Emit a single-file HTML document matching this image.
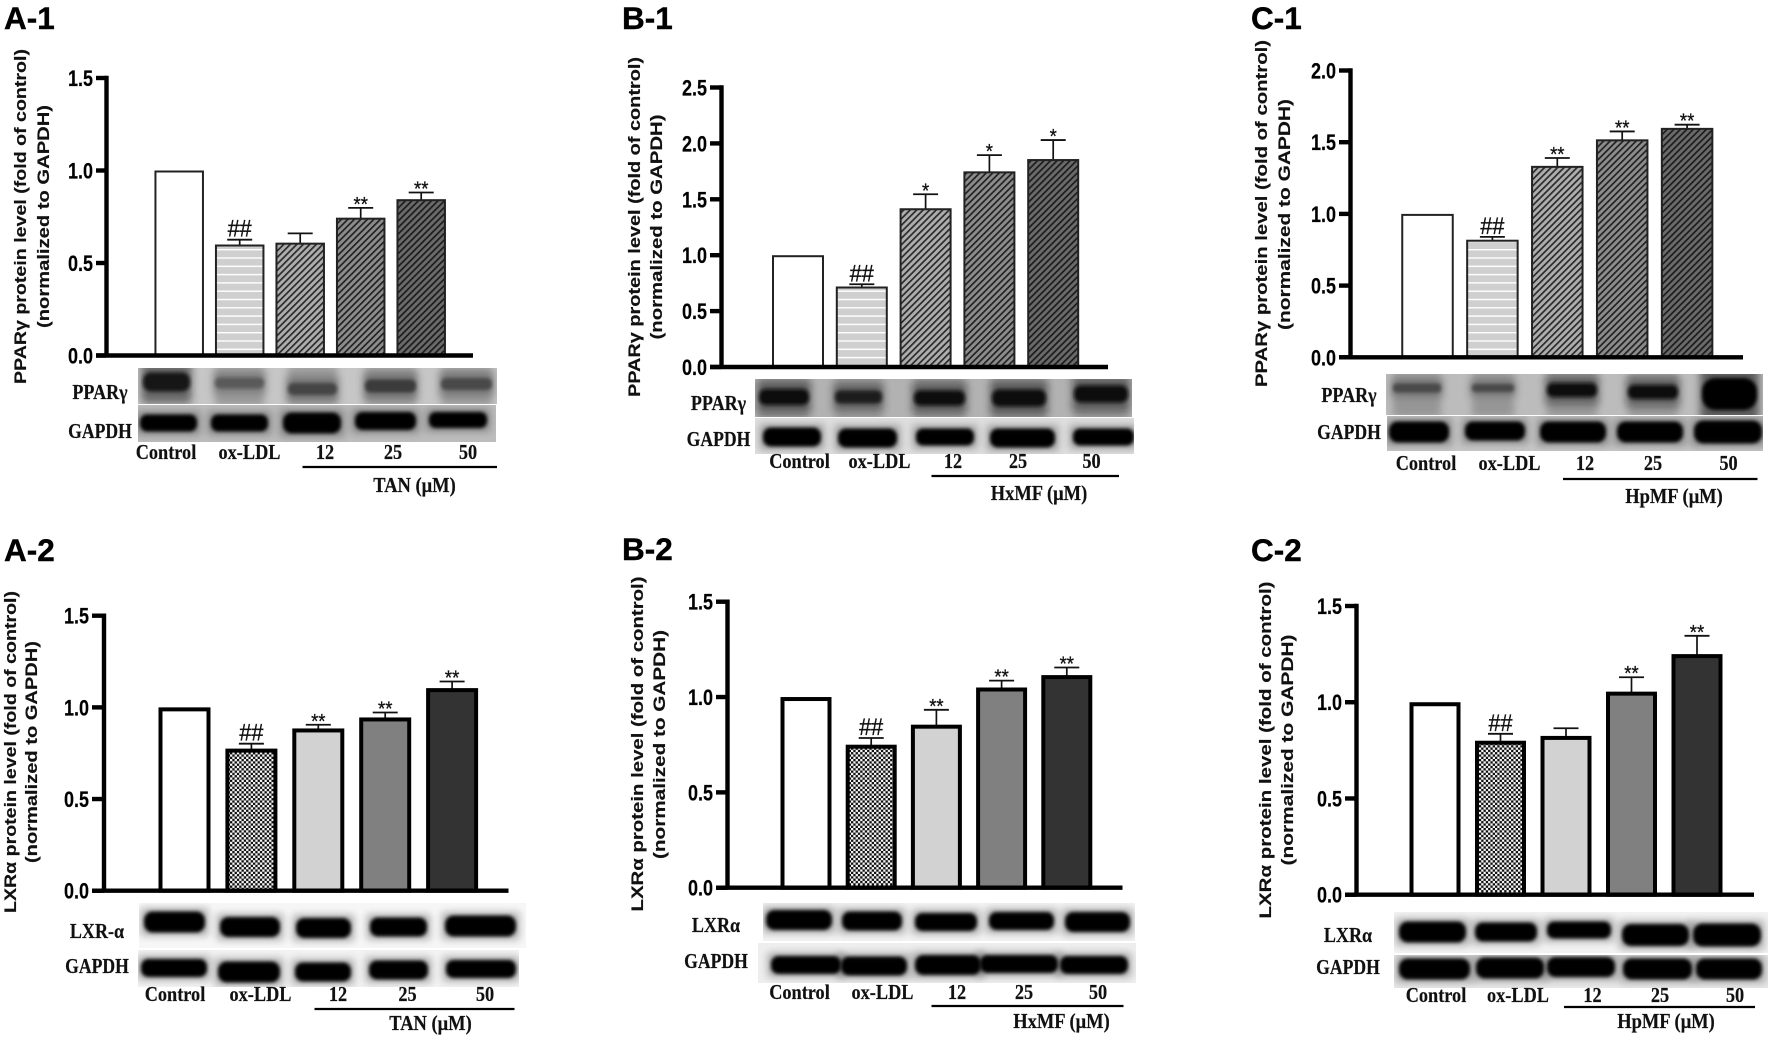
<!DOCTYPE html>
<html lang="en">
<head>
<meta charset="utf-8">
<title>PPARγ and LXRα protein levels</title>
<style>
html,body{margin:0;padding:0;background:#fff;}
svg{display:block;}
.pl{font:bold 31.5px "Liberation Sans",sans-serif;fill:#000;stroke:#000;stroke-width:.4;}
.yt{font:bold 16.5px "Liberation Sans",sans-serif;fill:#111;text-anchor:middle;stroke:#111;stroke-width:.15;}
.tk{font:bold 22px "Liberation Sans",sans-serif;fill:#000;stroke:#000;stroke-width:.2;}
.sf{font:bold 21px "Liberation Serif",serif;fill:#111;text-anchor:middle;stroke:#111;stroke-width:.2;}
.st{font:normal 20px "Liberation Sans",sans-serif;fill:#111;text-anchor:middle;stroke:#111;stroke-width:.3;}
.hs{font:normal 24px "Liberation Sans",sans-serif;fill:#111;text-anchor:middle;stroke:#111;stroke-width:.35;}
</style>
</head>
<body>
<svg id="figure" xmlns="http://www.w3.org/2000/svg" width="1772" height="1037" viewBox="0 0 1772 1037">
<defs>
<filter id="blurS" x="-20%" y="-60%" width="140%" height="220%"><feGaussianBlur stdDeviation="1.8"/></filter>
<filter id="blurL" x="-30%" y="-60%" width="160%" height="220%"><feGaussianBlur stdDeviation="4"/></filter>
<pattern id="stripes" patternUnits="userSpaceOnUse" width="10" height="8.3"><rect width="10" height="8.3" fill="#cfcfcf"/><rect width="10" height="1.4" fill="#fff"/></pattern>
<pattern id="hatch1" patternUnits="userSpaceOnUse" width="4.6" height="4.6" patternTransform="rotate(45)"><rect width="4.6" height="4.6" fill="#adadad"/><rect width="1.7" height="4.6" fill="#2a2a2a"/></pattern>
<pattern id="hatch2" patternUnits="userSpaceOnUse" width="4.6" height="4.6" patternTransform="rotate(45)"><rect width="4.6" height="4.6" fill="#8c8c8c"/><rect width="1.7" height="4.6" fill="#222"/></pattern>
<pattern id="hatch3" patternUnits="userSpaceOnUse" width="4.6" height="4.6" patternTransform="rotate(45)"><rect width="4.6" height="4.6" fill="#6a6a6a"/><rect width="1.7" height="4.6" fill="#1c1c1c"/></pattern>
<pattern id="check" patternUnits="userSpaceOnUse" width="4.6" height="4.6"><rect width="4.6" height="4.6" fill="#111"/><rect width="2.3" height="2.3" fill="#f4f4f4"/><rect x="2.3" y="2.3" width="2.3" height="2.3" fill="#f4f4f4"/></pattern>
</defs>

<text class="pl" x="4" y="29">A-1</text>
<text class="pl" x="622" y="29">B-1</text>
<text class="pl" x="1251" y="29">C-1</text>
<text class="pl" x="4" y="561">A-2</text>
<text class="pl" x="622" y="560">B-2</text>
<text class="pl" x="1251" y="561">C-2</text>

<text class="yt" textLength="335" lengthAdjust="spacingAndGlyphs" transform="translate(26 216.5) rotate(-90)">PPARγ protein level (fold of control)</text>
<text class="yt" textLength="223" lengthAdjust="spacingAndGlyphs" transform="translate(49 216.5) rotate(-90)">(normalized to GAPDH)</text>
<text class="yt" textLength="340" lengthAdjust="spacingAndGlyphs" transform="translate(640 227) rotate(-90)">PPARγ protein level (fold of control)</text>
<text class="yt" textLength="225" lengthAdjust="spacingAndGlyphs" transform="translate(662 227) rotate(-90)">(normalized to GAPDH)</text>
<text class="yt" textLength="347" lengthAdjust="spacingAndGlyphs" transform="translate(1267 213.5) rotate(-90)">PPARγ protein level (fold of control)</text>
<text class="yt" textLength="231" lengthAdjust="spacingAndGlyphs" transform="translate(1290 214.5) rotate(-90)">(normalized to GAPDH)</text>
<text class="yt" textLength="322" lengthAdjust="spacingAndGlyphs" transform="translate(16 752) rotate(-90)">LXRα protein level (fold of control)</text>
<text class="yt" textLength="222" lengthAdjust="spacingAndGlyphs" transform="translate(37 752) rotate(-90)">(normalized to GAPDH)</text>
<text class="yt" textLength="335" lengthAdjust="spacingAndGlyphs" transform="translate(643 744) rotate(-90)">LXRα protein level (fold of control)</text>
<text class="yt" textLength="229" lengthAdjust="spacingAndGlyphs" transform="translate(665 744.5) rotate(-90)">(normalized to GAPDH)</text>
<text class="yt" textLength="337" lengthAdjust="spacingAndGlyphs" transform="translate(1271 750) rotate(-90)">LXRα protein level (fold of control)</text>
<text class="yt" textLength="231" lengthAdjust="spacingAndGlyphs" transform="translate(1293 750) rotate(-90)">(normalized to GAPDH)</text>

<g id="charts"></g>
</svg>

<script>
// ---- shared chart data ----
const categories = ['Control', 'ox-LDL', '12', '25', '50'];

// ---- A-1 PPARγ / TAN ----
const a1Values = [1.0, 0.60, 0.61, 0.745, 0.845];
const a1Errors = [0, 0.026, 0.05, 0.053, 0.036];
const a1Marks = ['', '##', '', '**', '**'];
const a1Ticks = ['0.0', '0.5', '1.0', '1.5'];

// ---- B-1 PPARγ / HxMF ----
const b1Values = [1.0, 0.72, 1.42, 1.75, 1.86];
const b1Errors = [0, 0.02, 0.125, 0.145, 0.17];
const b1Marks = ['', '##', '*', '*', '*'];
const b1Ticks = ['0.0', '0.5', '1.0', '1.5', '2.0', '2.5'];

// ---- C-1 PPARγ / HpMF ----
const c1Values = [1.0, 0.82, 1.335, 1.52, 1.60];
const c1Errors = [0, 0.02, 0.055, 0.055, 0.022];
const c1Marks = ['', '##', '**', '**', '**'];
const c1Ticks = ['0.0', '0.5', '1.0', '1.5', '2.0'];

// ---- A-2 LXRα / TAN ----
const a2Values = [1.0, 0.775, 0.885, 0.945, 1.105];
const a2Errors = [0, 0.027, 0.02, 0.027, 0.036];
const a2Marks = ['', '##', '**', '**', '**'];
const a2Ticks = ['0.0', '0.5', '1.0', '1.5'];

// ---- B-2 LXRα / HxMF ----
const b2Values = [1.0, 0.75, 0.855, 1.05, 1.115];
const b2Errors = [0, 0.035, 0.078, 0.036, 0.04];
const b2Marks = ['', '##', '**', '**', '**'];
const b2Ticks = ['0.0', '0.5', '1.0', '1.5'];

// ---- C-2 LXRα / HpMF ----
const c2Values = [1.0, 0.80, 0.825, 1.055, 1.25];
const c2Errors = [0, 0.036, 0.04, 0.075, 0.095];
const c2Marks = ['', '##', '', '**', '**'];
const c2Ticks = ['0.0', '0.5', '1.0', '1.5'];

const row1Fills = ['#fff', 'url(#stripes)', 'url(#hatch1)', 'url(#hatch2)', 'url(#hatch3)'];
const row2Fills = ['#fff', 'url(#check)', '#d2d2d2', '#808080', '#333'];

// ---- panel layout (geometry only) ----
const panels = [
  {id:'a1', values:a1Values, errors:a1Errors, marks:a1Marks, ticks:a1Ticks, fills:row1Fills, sw:2,
   axisX:106.5, top:78, base:355.5, tickL:96, endX:473, x0:179.2, step:60.5, barW:47.5, axisW:4.4,
   label1:'PPARγ', labelX:100, labelY1:399, labelY2:438,
   catX:[166,249.5,325,393,468], catY:459, lineX:[302.5,497], lineY:467, drug:'TAN (μM)', drugX:414.5, drugY:492,
   strips:[
    {x:138,y:368,w:359,h:36,bg:'#c6c6c6',lane:true,bands:[[143,190,382,19,'#151515'],[215,264,383,11,'#5a5a5a'],[288,337,389,12,'#444'],[365,416,386,13,'#3a3a3a'],[441,492,384,12,'#4a4a4a']]},
    {x:138,y:405,w:358,h:37,bg:'#bcbcbc',bands:[[140,197,423,17,'#000'],[211,268,423,17,'#000'],[283,341,423,21,'#000'],[355,416,421,18,'#000'],[429,487,420,16,'#000']]}
   ]},
  {id:'b1', values:b1Values, errors:b1Errors, marks:b1Marks, ticks:b1Ticks, fills:row1Fills, sw:2,
   axisX:721.5, top:87.5, base:367, tickL:710, endX:1108, x0:798, step:63.8, barW:50, axisW:4.4,
   label1:'PPARγ', labelX:718.5, labelY1:410, labelY2:446,
   catX:[799.5,879.5,953,1018,1091.5], catY:468, lineX:[931.5,1119], lineY:476, drug:'HxMF (μM)', drugX:1039, drugY:500,
   strips:[
    {x:755,y:379,w:377,h:38,bg:'#b2b2b2',lane:true,bands:[[759,809,397,16,'#0c0c0c'],[835,882,397,13,'#1c1c1c'],[914,965,398,15,'#0a0a0a'],[992,1046,398,17,'#0a0a0a'],[1074,1128,394,17,'#0a0a0a']]},
    {x:755,y:418,w:379,h:36,bg:'#dedede',bands:[[763,821,437,19,'#000'],[838,897,438,19,'#000'],[916,974,437,17,'#000'],[990,1055,438,19,'#000'],[1073,1134,437,17,'#000']]}
   ]},
  {id:'c1', values:c1Values, errors:c1Errors, marks:c1Marks, ticks:c1Ticks, fills:row1Fills, sw:2,
   axisX:1350.5, top:70.5, base:357.3, tickL:1339, endX:1743, x0:1427.5, step:64.9, barW:50.5, axisW:4.4,
   label1:'PPARγ', labelX:1349, labelY1:402, labelY2:439,
   catX:[1426,1509.5,1585,1653,1728.5], catY:470, lineX:[1563,1757.5], lineY:479, drug:'HpMF (μM)', drugX:1674, drugY:503,
   strips:[
    {x:1386,y:374,w:377,h:41,bg:'#bcbcbc',lane:true,bands:[[1393,1441,388,9,'#4a4a4a'],[1472,1514,388,8,'#4a4a4a'],[1547,1597,390,14,'#0c0c0c'],[1628,1678,392,14,'#0c0c0c'],[1702,1757,394,32,'#050505']]},
    {x:1387,y:416,w:376,h:35,bg:'#c6c6c6',bands:[[1389,1449,432,21,'#000'],[1465,1525,431,19,'#000'],[1540,1606,432,21,'#000'],[1617,1683,432,21,'#000'],[1694,1762,432,23,'#000']]}
   ]},
  {id:'a2', values:a2Values, errors:a2Errors, marks:a2Marks, ticks:a2Ticks, fills:row2Fills, sw:4,
   axisX:104, top:615.7, base:890.7, tickL:92, endX:508.5, x0:184.5, step:66.9, barW:48, axisW:4.4,
   label1:'LXR-α', labelX:97, labelY1:938, labelY2:973,
   catX:[175,260.5,338,407.5,485], catY:1001, lineX:[314.5,514.5], lineY:1009, drug:'TAN (μM)', drugX:430.5, drugY:1030,
   strips:[
    {x:139,y:903,w:387,h:45,bg:'#f6f6f6',bands:[[144,205,922,21,'#000'],[220,280,927,20,'#000'],[296,351,928,20,'#000'],[370,427,927,19,'#000'],[445,516,926,21,'#000']]},
    {x:138,y:950,w:381,h:37,bg:'#f2f2f2',bands:[[141,207,968,18,'#000'],[218,280,972,21,'#000'],[295,351,972,19,'#000'],[369,428,970,19,'#000'],[446,516,969,18,'#000']]}
   ]},
  {id:'b2', values:b2Values, errors:b2Errors, marks:b2Marks, ticks:b2Ticks, fills:row2Fills, sw:4,
   axisX:727.5, top:601.7, base:887.7, tickL:716, endX:1122.5, x0:806, step:65.2, barW:47, axisW:4.4,
   label1:'LXRα', labelX:716, labelY1:932, labelY2:968,
   catX:[799.5,882.5,957,1024,1098], catY:999, lineX:[931.5,1123.5], lineY:1006, drug:'HxMF (μM)', drugX:1061.5, drugY:1028,
   strips:[
    {x:763,y:903,w:372,h:38,bg:'#f2f2f2',bands:[[766,832,920,20,'#000'],[842,902,921,19,'#000'],[915,977,922,18,'#000'],[989,1054,921,18,'#000'],[1065,1130,922,20,'#000']]},
    {x:758,y:943,w:378,h:40,bg:'#eeeeee',bands:[[771,841,965,18,'#000'],[841,907,966,19,'#000'],[915,981,965,20,'#000'],[980,1058,964,18,'#000'],[1060,1128,965,18,'#000']]}
   ]},
  {id:'c2', values:c2Values, errors:c2Errors, marks:c2Marks, ticks:c2Ticks, fills:row2Fills, sw:4,
   axisX:1356.5, top:606, base:894.7, tickL:1345, endX:1754, x0:1435, step:65.5, barW:47, axisW:4.4,
   label1:'LXRα', labelX:1348, labelY1:942, labelY2:974,
   catX:[1436,1518,1592.5,1660,1735], catY:1002, lineX:[1564,1755], lineY:1007, drug:'HpMF (μM)', drugX:1666, drugY:1028,
   strips:[
    {x:1394,y:912,w:374,h:41,bg:'#f2f2f2',bands:[[1399,1466,932,21,'#000'],[1475,1537,932,19,'#000'],[1547,1611,930,17,'#000'],[1622,1689,935,22,'#000'],[1693,1761,935,23,'#000']]},
    {x:1394,y:955,w:374,h:33,bg:'#e8e8e8',bands:[[1399,1470,969,21,'#000'],[1476,1544,968,21,'#000'],[1547,1615,967,20,'#000'],[1623,1692,969,21,'#000'],[1696,1762,969,21,'#000']]}
   ]}
];

// ---- drawing ----
const NS = 'http://www.w3.org/2000/svg';
const root = document.getElementById('charts');

function mk(parent, tag, attrs, text) {
  const n = document.createElementNS(NS, tag);
  for (const k in attrs) n.setAttribute(k, attrs[k]);
  if (text !== undefined) n.textContent = text;
  parent.appendChild(n);
  return n;
}

function squeeze(t, k) {
  t.setAttribute('lengthAdjust', 'spacingAndGlyphs');
  t.setAttribute('textLength', (t.getComputedTextLength() * k).toFixed(1));
}

panels.forEach(function (p) {
  const g = mk(root, 'g', {});
  
  

  const yMax = parseFloat(p.ticks[p.ticks.length - 1]);
  const yScale = function (v) { return p.base - (v / yMax) * (p.base - p.top); };
  const xScale = function (i) { return p.x0 + i * p.step; };

  // bars, error bars, significance marks
  p.values.forEach(function (v, i) {
    const cx = xScale(i);
    const yTop = yScale(v) + p.sw / 2;
    if (p.errors[i] > 0) {
      const yErr = yScale(v + p.errors[i]);
      const stem = mk(g, 'line', {x1:cx, x2:cx, y1:yTop, y2:yErr, stroke:'#111', 'stroke-width':1.7});
      
      
      const cap = mk(g, 'line', {x1:cx - 12.5, x2:cx + 12.5, y1:yErr, y2:yErr, stroke:'#111', 'stroke-width':1.8});
      
      
    }
    const bar = mk(g, 'rect', {x:cx - p.barW / 2, y:yTop, width:p.barW, height:p.base - yTop, fill:p.fills[i], stroke:p.sw > 3 ? '#000' : '#222', 'stroke-width':p.sw});
    
    

    const topY = yScale(v + p.errors[i]);
    if (p.marks[i] === '##') {
      const h = mk(g, 'text', {class:'hs', x:cx, y:topY - 3, textLength:24, lengthAdjust:'spacingAndGlyphs'}, p.marks[i]);
      
      
    } else if (p.marks[i]) {
      const s = mk(g, 'text', {class:'st', x:cx, y:topY + 3, textLength:p.marks[i].length * 7.2, lengthAdjust:'spacingAndGlyphs'}, p.marks[i]);
      
      
    }
  });

  // axes
  const yAxis = mk(g, 'line', {x1:p.axisX, x2:p.axisX, y1:p.top - p.axisW / 2, y2:p.base, stroke:'#000', 'stroke-width':p.axisW});
  
  
  const xAxis = mk(g, 'line', {x1:p.tickL, x2:p.endX, y1:p.base, y2:p.base, stroke:'#000', 'stroke-width':p.axisW});
  
  

  p.ticks.forEach(function (lab) {
    const y = yScale(parseFloat(lab));
    const tick = mk(g, 'line', {x1:p.tickL, x2:p.axisX, y1:y, y2:y, stroke:'#000', 'stroke-width':p.axisW});
    
    
    const t = mk(g, 'text', {class:'tk', x:p.tickL - 28, y:y + 8, textLength:25, lengthAdjust:'spacingAndGlyphs'}, lab);
    
    
  });

  // western blot strips
  p.strips.forEach(function (s, si) {
    const blot = mk(g, 'g', {});
    
    
    mk(blot, 'rect', {x:s.x, y:s.y, width:s.w, height:s.h, fill:s.bg});
    const clipId = 'clip-' + p.id + '-' + si;
    const defs = mk(blot, 'clipPath', {id:clipId});
    mk(defs, 'rect', {x:s.x, y:s.y, width:s.w, height:s.h});
    const inner = mk(blot, 'g', {'clip-path':'url(#' + clipId + ')'});
    s.bands.forEach(function (b) {
      if (s.lane) {
        mk(inner, 'rect', {x:b[0], y:s.y - 2, width:b[1] - b[0], height:s.h + 4, fill:'#7d7d7d', opacity:0.6, filter:'url(#blurL)'});
        mk(inner, 'rect', {x:b[0] - 2, y:b[2] - b[3], width:b[1] - b[0] + 4, height:b[3] * 2, fill:b[4], opacity:0.4, filter:'url(#blurL)'});
      } else {
        mk(inner, 'rect', {x:b[0] - 3, y:b[2] - b[3] / 2 - 3, width:b[1] - b[0] + 6, height:b[3] + 6, fill:'#000', opacity:0.3, filter:'url(#blurL)'});
      }
    });
    s.bands.forEach(function (b) {
      const band = mk(inner, 'rect', {x:b[0], y:b[2] - b[3] / 2, width:b[1] - b[0], height:b[3], rx:b[3] / 2.4, ry:b[3] / 2.4, fill:b[4], filter:'url(#blurS)'});
      
      
    });
  });

  // blot row labels
  const r1 = mk(g, 'text', {class:'sf', x:p.labelX, y:p.labelY1}, p.label1);
  
  
  squeeze(r1, 0.86);
  const r2 = mk(g, 'text', {class:'sf', x:p.labelX, y:p.labelY2}, 'GAPDH');
  
  
  squeeze(r2, 0.84);

  // category labels
  categories.forEach(function (c, i) {
    const t = mk(g, 'text', {class:'sf', x:p.catX[i], y:p.catY}, c);
    
    
    squeeze(t, 0.87);
  });

  // dose bracket + drug label
  const br = mk(g, 'line', {x1:p.lineX[0], x2:p.lineX[1], y1:p.lineY, y2:p.lineY, stroke:'#000', 'stroke-width':2.2});
  
  
  const d = mk(g, 'text', {class:'sf', x:p.drugX, y:p.drugY}, p.drug);
  
  
  squeeze(d, 0.88);
});
</script>
</body>
</html>
